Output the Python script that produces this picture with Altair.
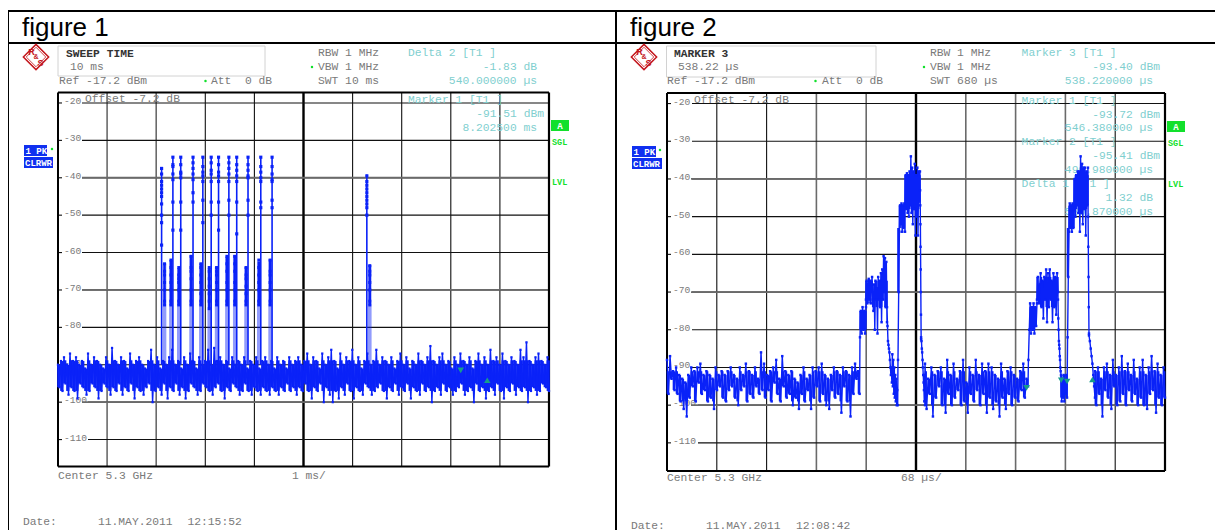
import altair as alt
import pandas as pd

# ---------- values ----------
F1_SPAN_MS = [0, 10]
F2_SPAN_US = [0, 680]
DB_SPAN = [-117.2, -17.2]
Y_LABELS_SHORT = [-20, -30, -40, -50, -60, -70, -80, -90]
Y_LABELS_LONG = [-100, -110]
HEAVY_DB = [-40, -70, -100]
F1_GREY_DIV = [1, 2]
F1_BLACK_DIV = [3, 4, 6, 7, 8, 9]
F2_GREY_DIV = [3, 4, 6, 7, 8]
F2_BLACK_DIV = [1, 2, 9]

fig1_noise = [
-90,-96,-89,-97,-88,-95,-90,-98,-87,-96,-89,-97,-88,-99,-90,-95,-89,-96,-91,-98,
-87,-97,-90,-95,-88,-96,-89,-99,-90,-97,-91,-95,-88,-96,-90,-98,-85.5,-96,-89,-97,
-90,-95,-88,-98,-89,-96,-91,-97,-87,-95,-90,-99,-89,-96,-88,-97,-90,-98,-91,-96,
-89,-95,-86,-100,-90,-97,-88,-96,-91,-98,-89,-95,-90,-99,-88,-96,-86,-97,-90,-95,
-89,-98,-91,-96,-88,-99,-90,-97,-87,-95,-89,-96,-91,-98,-88,-97,-90,-95,-89,-96,
-86,-97,-90,-98,-85.5,-96,-89,-95,-88,-97,-90,-99,-89,-96,-91,-97,-88,-95,-90,-96,
-89,-98,-90,-97,-88,-95,-91,-97,-89,-98,-90,-96,-88,-97,-91,-98,-89,-96,-88,-97,
-90,-98,-89,-96,-91,-97,-88,-98,-90,-96,-89,-97,-91,-95,-88,-97,-90,-96,-89,-98,
-88,-96,-90,-97,-89,-95,-87,-97,-90,-99,-88,-96,-89,-97,-91,-95,-87,-100,-90,-96,
-88,-98,-86,-100,-89,-97,-91,-99,-87,-96,-90,-98,-88,-95,-89,-97,-86,-99,-90,-96,
-88,-97,-91,-98,-89,-95,-87,-96,-90,-98,-89,-97,-86,-96,-90,-95,-88,-97,-89,-99,
-90,-96,-88,-97,-91,-95,-89,-98,-87,-96,-90,-97,-88,-95,-91,-99,-89,-96,-90,-97,
-87,-98,-89,-95,-90,-97,-88,-96,-85,-100,-89,-97,-90,-96,-88,-98,-87,-95,-90,-97,
-89,-96,-91,-98,-88,-97,-90,-96,-87,-95,-89,-98,-90,-97,-88,-96,-91,-100,-89,-95,
-87,-97,-90,-96,-88,-99,-90,-97,-86,-96,-89,-98,-88,-95,-90,-97,-87,-99,-89,-96,
-90,-97,-88,-95,-89,-98,-90,-96,-86,-97,-88,-96,-84,-100,-89,-97,-90,-96,-88,-98,
-87,-97,-89,-95,-90,-96,-88,-97,
]

burst_ms = [2.11, 2.34, 2.50, 2.75, 2.95, 3.12, 3.27, 3.48, 3.64, 3.87, 4.13, 4.36, 6.29]
burst_peak = [-37.2, -34.3, -34.3, -34.3, -34.3, -34.3, -34.3, -34.3, -34.3, -34.3, -34.3, -34.3, -39.1]
low_ms = [2.17, 2.30, 2.46, 2.71, 2.91, 3.08, 3.23, 3.44, 3.60, 3.83, 4.09, 4.32, 6.35]
low_top = [-62.9, -62.0, -64.2, -60.7, -62.9, -64.2, -63.8, -61.1, -60.7, -63.8, -62.4, -61.8, -63.3]
low_bottom = [-74, -74, -74, -74, -74, -75, -74, -74, -74, -74, -74, -74, -74]
halo_bottom = [-90, -90, -90, -90, -90, -90, -90, -90, -90, -90, -90, -90, -90]
burst_dots = [
    [-37.5, -39, -41, -42, -43, -44, -45, -47, -50, -52, -58],
    [-34.5, -36.5, -37, -39, -40.5, -46.5, -54],
    [-34.5, -36.5, -38.5, -39, -40, -46.5, -54],
    [-34.5, -36, -37.5, -39, -40.5, -46.5, -44],
    [-34.5, -37, -38.5, -39.5, -41, -46, -52],
    [-34.5, -36, -38, -39, -41, -46.5, -50],
    [-34.5, -36.5, -38.5, -39.5, -41, -46.5, -54],
    [-34.5, -36, -37.5, -39, -41, -46, -50],
    [-34.5, -36.5, -38, -39.5, -41, -46.5, -55],
    [-34.5, -36.5, -38, -39.5, -40, -46, -50],
    [-34.5, -37, -38.5, -40, -41, -46.5, -48],
    [-34.5, -37, -39, -40.5, -41, -46, -48],
    [-39.5, -41, -42, -43, -44, -45, -46, -47, -48, -50],
]
low_dots = [
    [-63, -65, -66, -68, -70, -73, -74],
    [-62, -64, -66, -68, -70, -73, -74],
    [-64, -66, -67, -68, -70, -73, -74],
    [-61, -64, -65, -67, -70, -73, -74],
    [-63, -64, -66, -68, -71, -73, -74],
    [-64, -65, -67, -69, -71, -73, -75],
    [-64, -65, -66, -68, -70, -73, -74],
    [-61, -63, -65, -68, -70, -73, -74],
    [-61, -63, -65, -68, -70, -73, -74],
    [-64, -66, -67, -69, -71, -73, -74],
    [-62, -64, -66, -68, -70, -73, -74],
    [-62, -65, -66, -68, -70, -73, -74],
    [-63.5, -65, -66, -68, -70, -73, -74],
]

f2_noise_a = [
-88,-97,-87,-93,-91,-96,-90,-97,-92,-99,-93,-101,-94,-103,-92,-98,
-90,-95,-91,-99,-90,-94,-89,-97,-92,-96,-91,-99,-92,-98,-93,-101,
-90,-96,-92,-95,-91,-98,-92,-99,-91,-96,-90,-95,-92,-98,-93,-100,
-90,-96,-92,-95,-89,-99,-91,-97,-92,-98,-90,-95,-93,-97,-86,-96,
-89,-98,-92,-96,-91,-99,-90,-94,-88,-97,-93,-99,-87,-95,-91,-98,
-92,-97,-91,-100,-93,-98,-94,-101,-92,-97,-90,-99,-93,-96,-92,-101,
-90,-98,-91,-95,-90,-99,-89,-97,-92,-100,-93,-101,-92,-96,-90,-98,
-91,-97,-92,-102,-90,-95,-91,-99,-92,-103,-90,-97,-89,-93,-91,-97,
]
f2_step_a = [-82, -75, -81, -74, -80, -75, -81, -74]
f2_hump_a = [-72, -67, -73, -68, -66.5, -72, -67, -73, -68, -66, -72, -75, -68, -80, -67, -72, -69, -81, -66, -72, -67, -74, -65, -78, -64, -72, -60.5, -70, -61, -74, -62, -78]
f2_fall_a = [-74, -79, -83, -84, -85, -86, -88, -90, -92, -90, -94, -86.5, -95, -88, -97, -90, -98, -92, -99, -93, -100, -96, -100]
f2_step_b = [-88, -70, -54, -47, -52, -46.5, -54, -47, -53, -46.5, -54]
f2_top_b = [-47, -39, -48, -38.5, -49, -39, -50, -38, -47, -34, -49, -37, -52, -38, -48, -36, -55, -39, -50, -37, -55, -38, -46, -38]
f2_fall_b = [-43, -47, -52, -58, -64, -70, -76, -82]
f2_shoulder_b = [-82.5, -83, -85, -86, -88, -90, -92, -94, -96, -99, -92, -100]
f2_noise_b = [
-89,-101,-93,-97,-90,-103,-92,-98,-91,-95,-90,-100,-93,-102,-88,-97,
-92,-100,-89,-98,-93,-96,-91,-100,-88,-99,-94,-102,-90,-97,-92,-99,
-88,-96,-92,-100,-89,-97,-91,-102,-89,-98,-90,-101,-92,-99,-93,-103,
-89,-98,-93,-101,-91,-97,-90,-100,-92,-98,-93,-99,-91,-96,-89,-98,-93,-95,
]
f2_step_c = [-88, -80, -73, -81, -74, -80, -73, -81, -74, -79, -73]
f2_hump_c = [-72, -66, -73, -68, -65, -74, -67, -77, -66, -72, -64, -78, -65, -74, -64, -72, -67, -78, -65, -74, -66, -76, -65, -70]
f2_fall_c = [-72, -77, -80, -83, -84, -85, -87, -88, -90, -91]
f2_block_c = [-92, -99, -93, -98, -92, -99, -94, -97, -92, -98]
f2_step_d = [-82, -66, -54, -46.5, -53, -47, -54, -46.5, -53, -47]
f2_top_d = [-48, -40, -50, -39, -47, -38, -49, -38, -54, -34, -49, -36, -52, -37, -48, -37, -55, -38, -47, -37]
f2_fall_d = [-50, -58, -66, -74, -81]
f2_shoulder_d = [-81.5, -83, -85, -87, -89, -92, -95, -98]
f2_noise_c = [
-91,-100,-90,-97,-93,-103,-90,-96,-89,-98,-92,-101,-88,-95,-92,-100,
-90,-99,-87,-97,-91,-100,-89,-96,-92,-99,-88,-97,-93,-100,-90,-98,
-88,-100,-92,-101,-90,-97,-87,-96,-91,-102,-89,-98,-92,-100,-90,-98,
]
# start, end, values, solid core limits (top, bottom) of the same stretch
F2_SEGMENTS = [
    (0, 263, f2_noise_a, (-91, -99)), (263.5, 271.7, f2_step_a, (-75, -80)), (271.7, 300.4, f2_hump_a, (-67, -74)),
    (300.4, 315, f2_fall_a, None), (315.4, 325, f2_step_b, (-47, -53)), (325, 345.4, f2_top_b, (-39, -48)),
    (345.6, 347, f2_fall_b, None), (347, 352.3, f2_shoulder_b, None), (352.3, 493, f2_noise_b, (-91, -100)),
    (493.5, 505.2, f2_step_c, (-74, -80)), (505.2, 533.9, f2_hump_c, (-66, -74)), (533.9, 537.5, f2_fall_c, None),
    (538, 546.2, f2_block_c, (-92, -98)), (547, 555.7, f2_step_d, (-47, -53)), (555.7, 574.8, f2_top_d, (-39, -48)),
    (575, 576.2, f2_fall_d, None), (576.2, 584.4, f2_shoulder_d, None), (584.4, 680, f2_noise_c, (-91, -100)),
]

markers1_ms = [8.2025, 8.7425]
markers1_db = [-91.51, -93.34]
markers2_down_us = [490.98, 538.22, 546.38]
markers2_down_db = [-95.41, -93.40, -93.72]
markers2_up_us = [580.87]
markers2_up_db = [-92.40]

BLUE = "#0a22f8"
GREY = "#7a7a7a"
TEAL = "#7fcfcf"
GREEN = "#12e02c"
MARK = "#169c8c"
MONO = "Liberation Mono"
TXT = 11.3

# ---------- helpers; page pixel = svg pixel + 8 ----------
ONE = alt.Data(values=[{"k": 1}])
layers = []

def P(v):
    return alt.value(v - 8)

def label(txt, x, y, color=GREY, size=TXT, align="left", weight="normal", font=MONO):
    kw = dict(align=align, baseline="middle", font=font, fontSize=size, color=color, fontWeight=weight)
    layers.append(alt.Chart(ONE).mark_text(**kw).encode(x=P(x), y=P(y), text=alt.value(txt)))

def hline(x0, x1, y, color="#000000", w=1.0):
    layers.append(alt.Chart(ONE).mark_rule(color=color, strokeWidth=w).encode(x=P(x0), x2=P(x1), y=P(y)))

def vline(x, y0, y1, color="#000000", w=1.0):
    layers.append(alt.Chart(ONE).mark_rule(color=color, strokeWidth=w).encode(x=P(x), y=P(y0), y2=P(y1)))

def box(x0, x1, y0, y1, fill=None, stroke=None):
    kw = {"fill": fill if fill else "#ffffff"}
    if stroke:
        kw["stroke"] = stroke
        kw["strokeWidth"] = 1
    layers.append(alt.Chart(ONE).mark_rect(**kw).encode(x=P(x0), x2=P(x1), y=P(y0), y2=P(y1)))

def dot(x, y):
    layers.append(alt.Chart(ONE).mark_point(shape="circle", filled=True, size=6, color=GREEN, opacity=1).encode(x=P(x), y=P(y)))

def logo(cx, cy):
    layers.append(alt.Chart(ONE).mark_point(shape="diamond", size=640, stroke="#c4161c", strokeWidth=1.5, fill="#ffffff", fillOpacity=1, opacity=1)
                  .encode(x=P(cx), y=P(cy)))
    layers.append(alt.Chart(ONE).mark_point(shape="diamond", size=380, stroke="#c4161c", strokeWidth=0.8, fillOpacity=0, opacity=1)
                  .encode(x=P(cx), y=P(cy)))
    label("R", cx - 4.5, cy - 5, "#c4161c", 9, "center", "bold", "Liberation Sans")
    label("&", cx, cy, "#c4161c", 7, "center", "bold", "Liberation Sans")
    label("S", cx + 4.5, cy + 6, "#c4161c", 9, "center", "bold", "Liberation Sans")

def panel(xscale, yscale, left, right, top, bottom, grey_div, black_div, ticks_short_x, ticks_long_x, label_x, span):
    d = span[1] / 10
    heavy = pd.DataFrame({"db": HEAVY_DB})
    layers.append(alt.Chart(pd.DataFrame({"t": [v * d for v in grey_div]})).mark_rule(color="#6a6a6a", strokeWidth=1.6)
                  .encode(x=alt.X("t:Q", scale=xscale, axis=None), y=P(top), y2=P(bottom)))
    layers.append(alt.Chart(pd.DataFrame({"t": [v * d for v in black_div]})).mark_rule(color="#111111", strokeWidth=1.1)
                  .encode(x=alt.X("t:Q", scale=xscale, axis=None), y=P(top), y2=P(bottom)))
    layers.append(alt.Chart(pd.DataFrame({"t": [5 * d]})).mark_rule(color="#000000", strokeWidth=2.4)
                  .encode(x=alt.X("t:Q", scale=xscale, axis=None), y=P(top), y2=P(bottom)))
    short = pd.DataFrame({"db": Y_LABELS_SHORT, "txt": [str(v) for v in Y_LABELS_SHORT]})
    long_ = pd.DataFrame({"db": Y_LABELS_LONG, "txt": [str(v) for v in Y_LABELS_LONG]})
    for df, gx in ((short, ticks_short_x), (long_, ticks_long_x)):
        ye = alt.Y("db:Q", scale=yscale, axis=None)
        layers.append(alt.Chart(df).mark_rule(color="#111111", strokeWidth=1.1).encode(y=ye, x=P(gx), x2=P(right)))
        layers.append(alt.Chart(df).mark_rule(color="#111111", strokeWidth=1.1).encode(y=ye, x=P(left), x2=P(left + 4)))
        layers.append(alt.Chart(df).mark_text(align="left", baseline="middle", font=MONO, fontSize=9.6, color=GREY, dy=-2)
                      .encode(y=ye, x=P(label_x), text="txt:N"))
    layers.append(alt.Chart(heavy).mark_rule(color="#6a6a6a", strokeWidth=1.8)
                  .encode(y=alt.Y("db:Q", scale=yscale, axis=None), x=P(left + 24), x2=P(right)))
    hline(left, right, top, w=2)
    hline(left, right, bottom, w=2.2)
    vline(left, top, bottom, w=2)
    vline(right, top, bottom, w=2.2)

def pair_rows(times, vals, limits):
    out = []
    for i in range(0, len(vals) - 1, 2):
        hi, lo = max(vals[i], vals[i + 1]), min(vals[i], vals[i + 1])
        out.append({"t": (times[i] + times[i + 1]) / 2, "top": min(hi, limits[0]), "bot": max(lo, limits[1])})
    return out

# ---------- outer table ----------
hline(8, 1223, 11, w=2)
hline(8, 1223, 43, w=2)
vline(8, 11, 530, w=2)
vline(616, 11, 530, w=2)
label("figure 1", 22, 28, "#000000", 26, font="Liberation Sans")
label("figure 2", 630, 28, "#000000", 26, font="Liberation Sans")

# ---------- figure 1 ----------
x1 = alt.Scale(domain=F1_SPAN_MS, range=[58 - 8, 549 - 8], nice=False, zero=False)
y1 = alt.Scale(domain=DB_SPAN, range=[466.5 - 8, 92.5 - 8], nice=False, zero=False)
X1 = alt.X("t:Q", scale=x1, axis=None)
Y1 = alt.Y("db:Q", scale=y1, axis=None)

logo(36, 57)
box(58, 265, 46, 76, stroke="#d2d2d2")
label("SWEEP TIME", 66, 53.5, "#333333", TXT, weight="bold")
label("10 ms", 70, 66.7)
label("Ref -17.2 dBm", 59, 80.5)
dot(205.5, 81)
label("Att", 211, 80.5)
label("0 dB", 245, 80.5)
label("RBW 1 MHz", 318, 52.5)
dot(312, 67)
label("VBW 1 MHz", 318, 66.5)
label("SWT 10 ms", 318, 80.5)
label("Delta 2 [T1 ]", 408, 52.5, TEAL)
label("-1.83 dB", 537, 66.5, TEAL, align="right")
label("540.000000 \u00b5s", 537, 80.5, TEAL, align="right")
box(24, 47, 145, 156, fill="#1030f0")
label("1 PK", 25.5, 150.5, "#ffffff", 9, weight="bold")
dot(52, 149)
box(24, 53, 157, 168, fill="#1030f0")
label("CLRWR", 25, 162.5, "#ffffff", 9, weight="bold")

panel(x1, y1, 58, 549, 92.5, 466.5, F1_GREY_DIV, F1_BLACK_DIV, 82, 88, 64, F1_SPAN_MS)

label("Offset -7.2 dB", 85, 99)
label("Marker 1 [T1 ]", 408, 100, TEAL)
label("-91.51 dBm", 544, 113.5, TEAL, align="right")
label("8.202500 ms", 537, 127.5, TEAL, align="right")
box(551, 569, 120, 131, fill=GREEN)
label("A", 560, 125.5, "#ffffff", 9, "center", "bold")
label("SGL", 552, 141.5, GREEN, 8.5, weight="bold")
label("LVL", 552, 182, GREEN, 8.5, weight="bold")
label("Center 5.3 GHz", 58, 476)
label("1 ms/", 292, 476)
label("Date:", 23, 521.7)
label("11.MAY.2011", 98, 521.7)
label("12:15:52", 187.5, 521.7)

step1 = F1_SPAN_MS[1] / (len(fig1_noise) - 1)
times1 = [i * step1 for i in range(len(fig1_noise))]
noise1 = pd.DataFrame({"t": times1, "db": fig1_noise})
core1 = pd.DataFrame(pair_rows(times1, fig1_noise, (-88.8, -97)))
layers.append(alt.Chart(core1).mark_rule(color=BLUE, strokeWidth=3.2)
              .encode(x=X1, y=alt.Y("top:Q", scale=y1, axis=None), y2=alt.Y2("bot:Q")))
layers.append(alt.Chart(noise1).mark_line(color=BLUE, strokeWidth=1.4).encode(x=X1, y=Y1))
layers.append(alt.Chart(noise1).mark_square(color=BLUE, size=5, opacity=1).encode(x=X1, y=Y1))

bursts = pd.DataFrame({"t": burst_ms, "peak": burst_peak, "t2": low_ms, "low_top": low_top, "low_bottom": low_bottom, "halo": halo_bottom})
layers.append(alt.Chart(bursts).mark_rule(color=BLUE, strokeWidth=3.6, opacity=0.45)
              .encode(x=alt.X("t2:Q", scale=x1, axis=None), y=alt.Y("low_top:Q", scale=y1, axis=None), y2=alt.Y2("halo:Q")))
layers.append(alt.Chart(bursts).mark_rule(color=BLUE, strokeWidth=1.6)
              .encode(x=X1, y=alt.Y("peak:Q", scale=y1, axis=None), y2=alt.Y2("halo:Q")))
layers.append(alt.Chart(bursts).mark_rule(color=BLUE, strokeWidth=2.4)
              .encode(x=alt.X("t2:Q", scale=x1, axis=None), y=alt.Y("low_top:Q", scale=y1, axis=None), y2=alt.Y2("low_bottom:Q")))
d1 = pd.DataFrame([{"t": t, "db": v} for t, vals in zip(burst_ms, burst_dots) for v in vals])
layers.append(alt.Chart(d1).mark_square(color=BLUE, size=10, opacity=1).encode(x=X1, y=Y1))
d2 = pd.DataFrame([{"t": t, "db": v} for t, vals in zip(low_ms, low_dots) for v in vals])
layers.append(alt.Chart(d2).mark_square(color=BLUE, size=9, opacity=1).encode(x=X1, y=Y1))

layers.append(alt.Chart(pd.DataFrame({"t": markers1_ms[:1], "db": markers1_db[:1]}))
              .mark_point(shape="triangle-down", filled=True, size=42, color=MARK, opacity=1).encode(x=X1, y=Y1))
layers.append(alt.Chart(pd.DataFrame({"t": markers1_ms[1:], "db": markers1_db[1:]}))
              .mark_point(shape="triangle-up", filled=True, size=42, color=MARK, opacity=1, yOffset=3).encode(x=X1, y=Y1))

# ---------- figure 2 ----------
x2 = alt.Scale(domain=F2_SPAN_US, range=[667 - 8, 1165 - 8], nice=False, zero=False)
y2 = alt.Scale(domain=DB_SPAN, range=[470 - 8, 93 - 8], nice=False, zero=False)
X2 = alt.X("t:Q", scale=x2, axis=None)
Y2 = alt.Y("db:Q", scale=y2, axis=None)

logo(644, 57)
box(666.5, 876, 46, 77, stroke="#d2d2d2")
label("MARKER 3", 674, 53.5, "#333333", TXT, weight="bold")
label("538.22 \u00b5s", 678, 66.7)
label("Ref -17.2 dBm", 667, 80.5)
dot(815.5, 81)
label("Att", 822, 80.5)
label("0 dB", 856, 80.5)
label("RBW 1 MHz", 930, 52.5)
dot(924, 67)
label("VBW 1 MHz", 930, 66.5)
label("SWT 680 \u00b5s", 930, 80.5)
label("Marker 3 [T1 ]", 1021.6, 52.5, TEAL)
label("-93.40 dBm", 1160, 66.5, TEAL, align="right")
label("538.220000 \u00b5s", 1153, 80.5, TEAL, align="right")
box(632, 656, 146, 157, fill="#1030f0")
label("1 PK", 633.5, 151.5, "#ffffff", 9, weight="bold")
dot(660, 150)
box(632, 662, 158, 169, fill="#1030f0")
label("CLRWR", 633, 163.5, "#ffffff", 9, weight="bold")

panel(x2, y2, 667, 1165, 93, 471, F2_GREY_DIV, F2_BLACK_DIV, 692, 698, 673, F2_SPAN_US)

label("Offset -7.2 dB", 694, 99.5)
label("Marker 1 [T1 ]", 1021.6, 100.5, TEAL)
label("-93.72 dBm", 1160, 114.5, TEAL, align="right")
label("546.380000 \u00b5s", 1153, 127.5, TEAL, align="right")
label("Marker 2 [T1 ]", 1021.6, 141.5, TEAL)
label("-95.41 dBm", 1160, 155.5, TEAL, align="right")
label("490.980000 \u00b5s", 1153, 169.5, TEAL, align="right")
label("Delta 1 [T1 ]", 1021.6, 183.5, TEAL)
label("1.32 dB", 1153, 197.5, TEAL, align="right")
label("580.870000 \u00b5s", 1153, 211.5, TEAL, align="right")
box(1167, 1185, 121, 132, fill=GREEN)
label("A", 1176, 126.5, "#ffffff", 9, "center", "bold")
label("SGL", 1168, 143, GREEN, 8.5, weight="bold")
label("LVL", 1168, 184, GREEN, 8.5, weight="bold")
label("Center 5.3 GHz", 667, 478)
label("68 \u00b5s/", 901, 478)
label("Date:", 631, 525.5)
label("11.MAY.2011", 706, 525.5)
label("12:08:42", 796, 525.5)

rows = []
cores = []
for start, end, vals, limits in F2_SEGMENTS:
    n = len(vals)
    times = [start + (end - start) * i / max(n - 1, 1) for i in range(n)]
    rows.extend({"t": t, "db": v} for t, v in zip(times, vals))
    if limits:
        cores.extend(pair_rows(times, vals, limits))
trace2 = pd.DataFrame(rows)
core2 = pd.DataFrame(cores)
layers.append(alt.Chart(core2).mark_rule(color=BLUE, strokeWidth=2.3)
              .encode(x=X2, y=alt.Y("top:Q", scale=y2, axis=None), y2=alt.Y2("bot:Q")))
layers.append(alt.Chart(trace2).mark_line(color=BLUE, strokeWidth=1.4).encode(x=X2, y=Y2, order="t:Q"))
layers.append(alt.Chart(trace2).mark_square(color=BLUE, size=6, opacity=1).encode(x=X2, y=Y2))
layers.append(alt.Chart(pd.DataFrame({"t": markers2_down_us, "db": markers2_down_db}))
              .mark_point(shape="triangle-down", filled=True, size=42, color=MARK, opacity=1).encode(x=X2, y=Y2))
layers.append(alt.Chart(pd.DataFrame({"t": markers2_up_us, "db": markers2_up_db}))
              .mark_point(shape="triangle-up", filled=True, size=42, color=MARK, opacity=1, yOffset=3).encode(x=X2, y=Y2))

chart = (
    alt.layer(*layers)
    .resolve_scale(x="independent", y="independent")
    .properties(width=1207, height=522, padding=0, background="#ffffff",
                autosize=alt.AutoSizeParams(type="none"))
    .configure_view(stroke=None)
)
chart.save("out.html", embed_options={"renderer": "svg", "actions": False})
